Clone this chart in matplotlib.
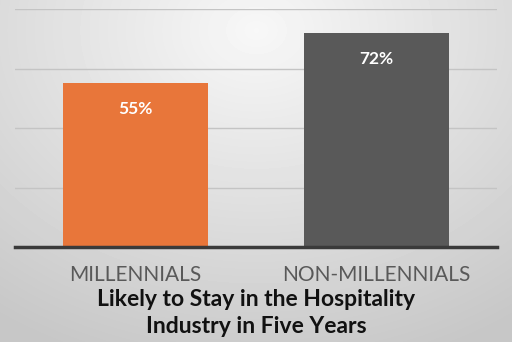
import numpy as np
import matplotlib
matplotlib.use("Agg")
import matplotlib.pyplot as plt

categories = ["MILLENNIALS", "NON-MILLENNIALS"]
values = [55, 72]
bar_colors = ["#E8763A", "#595959"]
title = "Likely to Stay in the Hospitality\nIndustry in Five Years"

plt.rcParams["font.family"] = ["Lato", "DejaVu Sans"]

fig = plt.figure(figsize=(5.12, 3.42), dpi=100)

# soft radial gradient behind everything
bg = fig.add_axes([0, 0, 1, 1], zorder=-10)
yy, xx = np.mgrid[0:342, 0:512]
r = np.sqrt(((xx - 256) / 420.0) ** 2 + ((yy - 30) / 330.0) ** 2)
shade = np.clip(0.97 - 0.18 * r, 0.78, 0.97)
bg.imshow(shade, cmap="gray", vmin=0, vmax=1, aspect="auto")
bg.axis("off")

ax = fig.add_axes([15 / 512, 1 - 247 / 342, 482 / 512, 238 / 342])
ax.patch.set_alpha(0)
x = np.arange(len(categories))
bars = ax.bar(x, values, width=0.6, color=bar_colors, zorder=2)
ax.set_xlim(-0.5, 1.5)
ax.set_ylim(0, 80)
ax.set_yticks([20, 40, 60, 80])
ax.yaxis.grid(True, color="#c4c4c4", linewidth=1.0, zorder=0)
ax.tick_params(left=False, labelleft=False, bottom=False, labelbottom=False)
for side in ["left", "right", "top"]:
    ax.spines[side].set_visible(False)
ax.spines["bottom"].set_color("#3a3a3a")
ax.spines["bottom"].set_linewidth(2.5)
ax.spines["bottom"].set_zorder(3)

for b, v in zip(bars, values):
    ax.annotate(f"{v}%", (b.get_x() + b.get_width() / 2, v),
                xytext=(0, -26), textcoords="offset pixels",
                ha="center", va="center", color="white",
                fontsize=12.5, fontweight="bold", zorder=4)

for xi, cat in zip(x, categories):
    ax.text(xi, -9.5, cat, ha="center", va="center", color="#595959",
            fontsize=15)

fig.text(0.5, 1 - 313 / 342, title, ha="center", va="center",
         fontsize=16.5, fontweight="bold", color="#111111", linespacing=1.3)

fig.savefig("out.png", dpi=100)
